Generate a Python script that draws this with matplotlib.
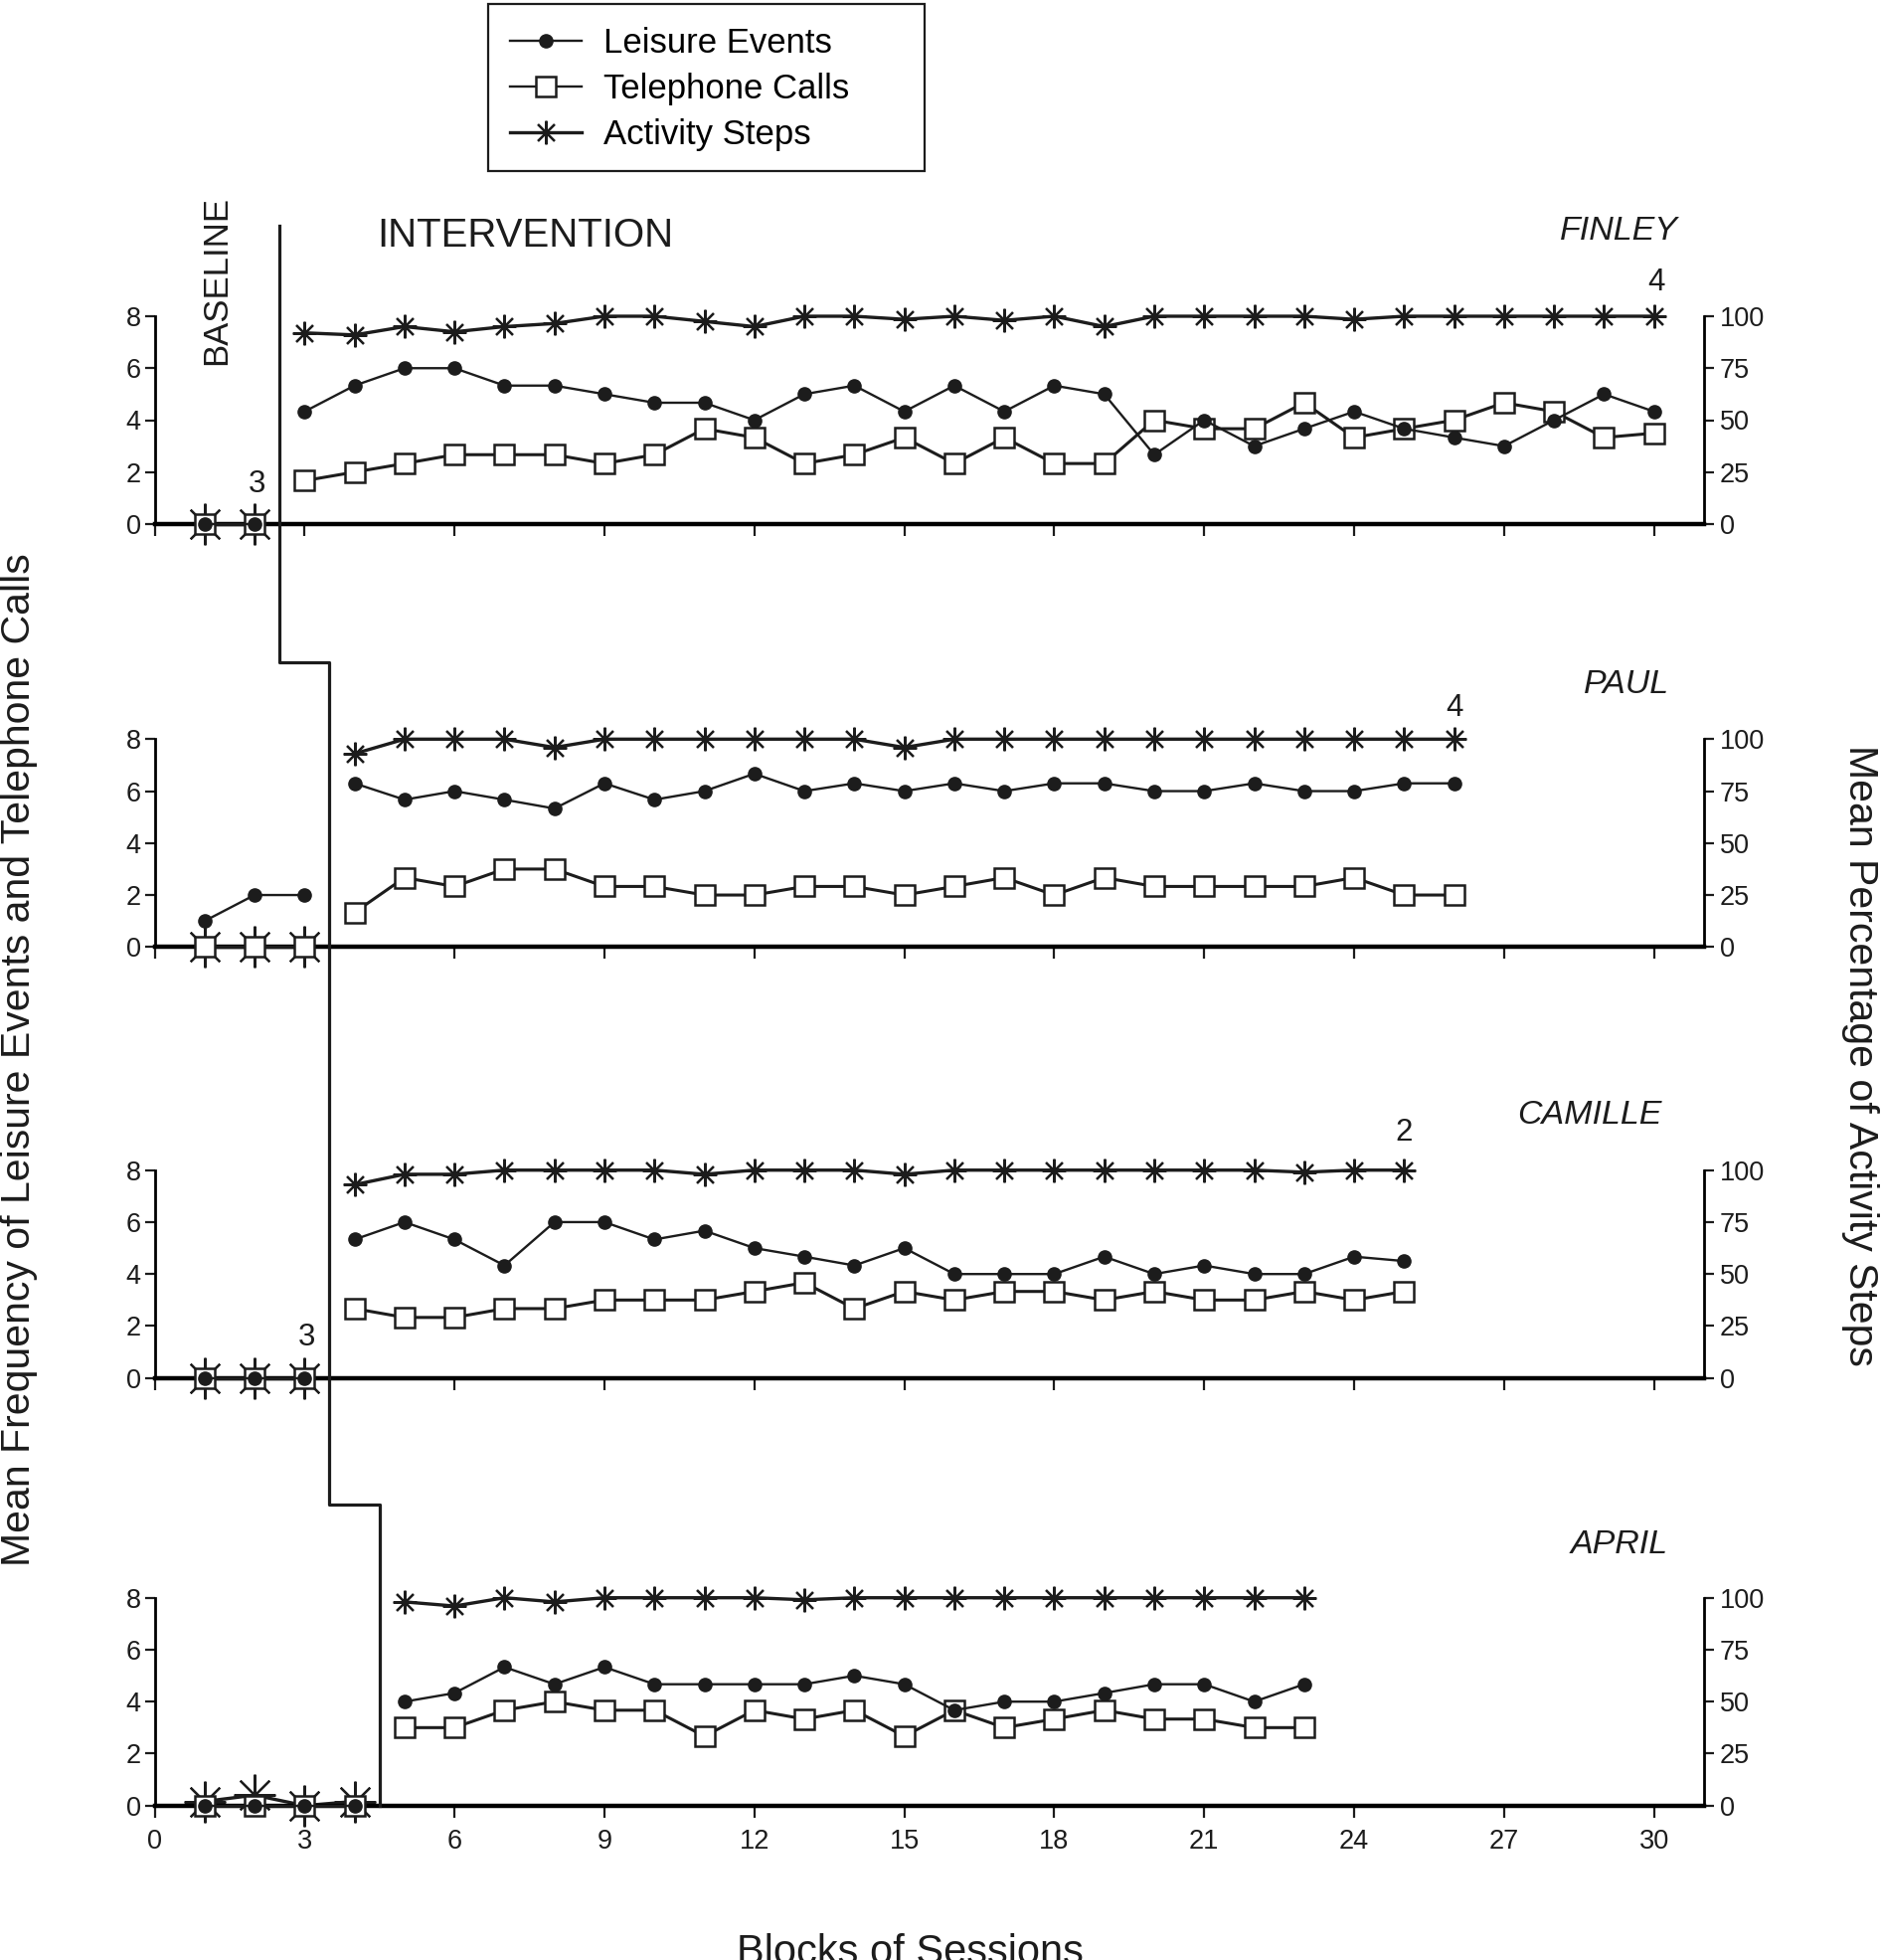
import matplotlib
matplotlib.use('Agg')
import matplotlib.pyplot as plt
import matplotlib.transforms as mtransforms
from matplotlib.lines import Line2D
from matplotlib.patches import Rectangle

plt.rcParams['font.family'] = ['Liberation Sans', 'DejaVu Sans']

# ---- data ----
finley_base_sessions = [1, 2]
finley_base_leisure = [0, 0]
finley_base_calls = [0, 0]
finley_base_steps = [0, 0]
finley_int_sessions = list(range(3, 31))
finley_int_leisure = [4.33, 5.33, 6, 6, 5.33, 5.33, 5, 4.67, 4.67, 4, 5, 5.33, 4.33, 5.33,
                      4.33, 5.33, 5, 2.67, 4, 3, 3.67, 4.33, 3.67, 3.33, 3, 4, 5, 4.33]
finley_int_calls = [1.67, 2, 2.33, 2.67, 2.67, 2.67, 2.33, 2.67, 3.67, 3.33, 2.33, 2.67, 3.33, 2.33,
                    3.33, 2.33, 2.33, 4, 3.67, 3.67, 4.67, 3.33, 3.67, 4, 4.67, 4.33, 3.33, 3.5]
finley_int_steps = [92, 91, 95, 92.5, 95, 96.5, 100, 100, 97.5, 95, 100, 100, 98.5, 100,
                    98, 100, 95, 100, 100, 100, 100, 98.5, 100, 100, 100, 100, 100, 100]

paul_base_sessions = [1, 2, 3]
paul_base_leisure = [1, 2, 2]
paul_base_calls = [0, 0, 0]
paul_base_steps = [0, 0, 0]
paul_int_sessions = list(range(4, 27))
paul_int_leisure = [6.3, 5.67, 6, 5.67, 5.33, 6.3, 5.67, 6, 6.67, 6, 6.3, 6, 6.3, 6,
                    6.3, 6.3, 6, 6, 6.3, 6, 6, 6.3, 6.3]
paul_int_calls = [1.33, 2.67, 2.33, 3, 3, 2.33, 2.33, 2, 2, 2.33, 2.33, 2, 2.33, 2.67,
                  2, 2.67, 2.33, 2.33, 2.33, 2.33, 2.67, 2, 2]
paul_int_steps = [93, 100, 100, 100, 96, 100, 100, 100, 100, 100, 100, 96, 100, 100,
                  100, 100, 100, 100, 100, 100, 100, 100, 100]

camille_base_sessions = [1, 2, 3]
camille_base_leisure = [0, 0, 0]
camille_base_calls = [0, 0, 0]
camille_base_steps = [0, 0, 0]
camille_int_sessions = list(range(4, 26))
camille_int_leisure = [5.33, 6, 5.33, 4.33, 6, 6, 5.33, 5.67, 5, 4.67, 4.33, 5, 4, 4,
                       4, 4.67, 4, 4.33, 4, 4, 4.67, 4.5]
camille_int_calls = [2.67, 2.33, 2.33, 2.67, 2.67, 3, 3, 3, 3.33, 3.67, 2.67, 3.33, 3, 3.33,
                     3.33, 3, 3.33, 3, 3, 3.33, 3, 3.33]
camille_int_steps = [93, 98, 98, 100, 100, 100, 100, 98, 100, 100, 100, 98, 100, 100,
                     100, 100, 100, 100, 100, 99, 100, 100]

april_base_sessions = [1, 2, 3, 4]
april_base_leisure = [0, 0, 0, 0]
april_base_calls = [0, 0, 0, 0]
april_base_steps = [2, 5, 0, 2]
april_int_sessions = list(range(5, 24))
april_int_leisure = [4, 4.33, 5.33, 4.67, 5.33, 4.67, 4.67, 4.67, 4.67, 5, 4.67, 3.67, 4, 4,
                     4.33, 4.67, 4.67, 4, 4.67]
april_int_calls = [3, 3, 3.67, 4, 3.67, 3.67, 2.67, 3.67, 3.33, 3.67, 2.67, 3.67, 3, 3.33,
                   3.67, 3.33, 3.33, 3, 3]
april_int_steps = [98, 96, 100, 98, 100, 100, 100, 100, 99, 100, 100, 100, 100, 100,
                   100, 100, 100, 100, 100]

names = ['FINLEY', 'PAUL', 'CAMILLE', 'APRIL']
legend_labels = ['Leisure Events', 'Telephone Calls', 'Activity Steps']

panels = [
    (finley_base_sessions, finley_base_leisure, finley_base_calls, finley_base_steps,
     finley_int_sessions, finley_int_leisure, finley_int_calls, finley_int_steps),
    (paul_base_sessions, paul_base_leisure, paul_base_calls, paul_base_steps,
     paul_int_sessions, paul_int_leisure, paul_int_calls, paul_int_steps),
    (camille_base_sessions, camille_base_leisure, camille_base_calls, camille_base_steps,
     camille_int_sessions, camille_int_leisure, camille_int_calls, camille_int_steps),
    (april_base_sessions, april_base_leisure, april_base_calls, april_base_steps,
     april_int_sessions, april_int_leisure, april_int_calls, april_int_steps),
]

# block counts written on the graph: (panel, session, y, text)
notes = [(0, 2.04, 1.55, '3'), (0, 30.05, 9.3, '4'), (1, 26.0, 9.2, '4'),
         (2, 3.05, 1.55, '3'), (2, 25.0, 9.45, '2')]
name_pos = [(30.47, 11.26), (30.3, 10.09), (30.15, 10.12), (30.27, 10.05)]

ink = '#1c1c1c'
W, H = 1892, 1971
fig = plt.figure(figsize=(W / 100, H / 100), dpi=100)

left = 155.5 / W
width = (1714 - 155.5) / W
zero_px = [527, 952.3, 1385.7, 1815.7]
height = 209 / H

star = (8, 2, 0)
axes = []
for k, p in enumerate(panels):
    bx, bl, bc, bs, ix, il, ic, isteps = p
    ax = fig.add_axes([left, 1 - zero_px[k] / H, width, height])
    ax2 = ax.twinx()
    ax.set_zorder(ax2.get_zorder() + 1)
    ax.patch.set_visible(False)

    # activity steps (right axis); baseline stars are drawn larger
    ax2.plot(bx, bs, color=ink, lw=2.4, marker=star, ms=30, mew=1.6,
             mec=ink, clip_on=False)
    ax2.plot(ix, isteps, color=ink, lw=2.4, marker=star, ms=17, mew=1.6,
             mec=ink, clip_on=False)
    for xs, ys in ((bx, bc), (ix, ic)):
        ax.plot(xs, ys, color=ink, lw=2.2, marker='s', ms=14.5, mfc='white',
                mec=ink, mew=1.8, zorder=3, clip_on=False)
    for xs, ys in ((bx, bl), (ix, il)):
        ax.plot(xs, ys, color=ink, lw=1.7, marker='o', ms=9.5, mfc=ink,
                mec=ink, zorder=4, clip_on=False)

    ax.set_xlim(0, 31)
    ax.set_ylim(0, 8)
    ax.set_yticks([0, 2, 4, 6, 8])
    ax.set_xticks(range(0, 31, 3))
    ax.spines['top'].set_visible(False)
    ax.spines['right'].set_visible(False)
    ax.spines['left'].set_linewidth(2.0)
    ax.spines['bottom'].set_linewidth(3.2)
    ax.spines['bottom'].set_zorder(2.6)
    ax.tick_params(axis='y', direction='out', length=7, width=1.6,
                   labelsize=19.5, pad=3, colors=ink)
    ax.tick_params(axis='x', direction='out', length=8.5, width=1.6,
                   labelsize=19.5, pad=8, colors=ink)
    if k < 3:
        ax.tick_params(labelbottom=False)

    ax2.set_ylim(0, 100)
    ax2.set_yticks([0, 25, 50, 75, 100])
    for s in ('top', 'left', 'bottom'):
        ax2.spines[s].set_visible(False)
    ax2.spines['right'].set_linewidth(2.0)
    ax2.tick_params(axis='y', direction='out', length=7.5, width=1.6,
                    labelsize=19.5, pad=4, colors=ink)

    nx, ny = name_pos[k]
    ax.text(nx, ny, names[k], ha='right', va='center', fontsize=24.5,
            style='italic', color=ink, clip_on=False)
    axes.append(ax)

for k, x, y, t in notes:
    axes[k].text(x, y, t, ha='center', va='center', fontsize=22.5, color=ink)

axes[0].text(4.45, 11.09, 'INTERVENTION', ha='left', va='center', fontsize=29, color=ink)
axes[0].text(1.23, 9.37, 'BASELINE', ha='center', va='center', fontsize=25,
             rotation=90, color=ink)

# phase change line (x in sessions, y in figure fraction)
tr = mtransforms.blended_transform_factory(axes[3].transData, fig.transFigure)
phase_x = [2.5, 2.5, 3.5, 3.5, 4.5, 4.5]
phase_y = [1 - 226.7 / H, 1 - 666 / H, 1 - 666 / H, 1 - 1513.3 / H, 1 - 1513.3 / H, 1 - 1815.7 / H]
fig.add_artist(Line2D(phase_x, phase_y, transform=tr, color=ink, lw=2.3))

# axis titles
fig.text(19 / W, 1 - 1066 / H, 'Mean Frequency of Leisure Events and Telephone Calls',
         rotation=90, ha='center', va='center', fontsize=29.5, color=ink)
fig.text(1871 / W, 1 - 1061 / H, 'Mean Percentage of Activity Steps',
         rotation=270, ha='center', va='center', fontsize=29.5, color=ink)
fig.text(915 / W, 1 - 1944 / H, 'Blocks of Sessions', ha='center', va='top',
         fontsize=30, color=ink)

# legend with its own frame
handles = [
    Line2D([], [], color=ink, lw=1.7, marker='o', ms=9.5, mfc=ink, mec=ink),
    Line2D([], [], color=ink, lw=1.7, marker='s', ms=14.5, mfc='white', mec=ink, mew=1.8),
    Line2D([], [], color=ink, lw=2.4, marker=star, ms=17, mew=1.6, mec=ink),
]
fig.legend(handles, legend_labels, loc='upper left', bbox_to_anchor=(513 / W, 1 - 27 / H),
           frameon=False, fontsize=25, handlelength=2.07, handletextpad=0.63,
           labelspacing=0.38, borderpad=0, borderaxespad=0)
fig.add_artist(Rectangle((491 / W, 1 - 172 / H), 439 / W, 168 / H, transform=fig.transFigure,
                         fill=False, ec=ink, lw=1.6))

fig.savefig('out.png', dpi=100)
